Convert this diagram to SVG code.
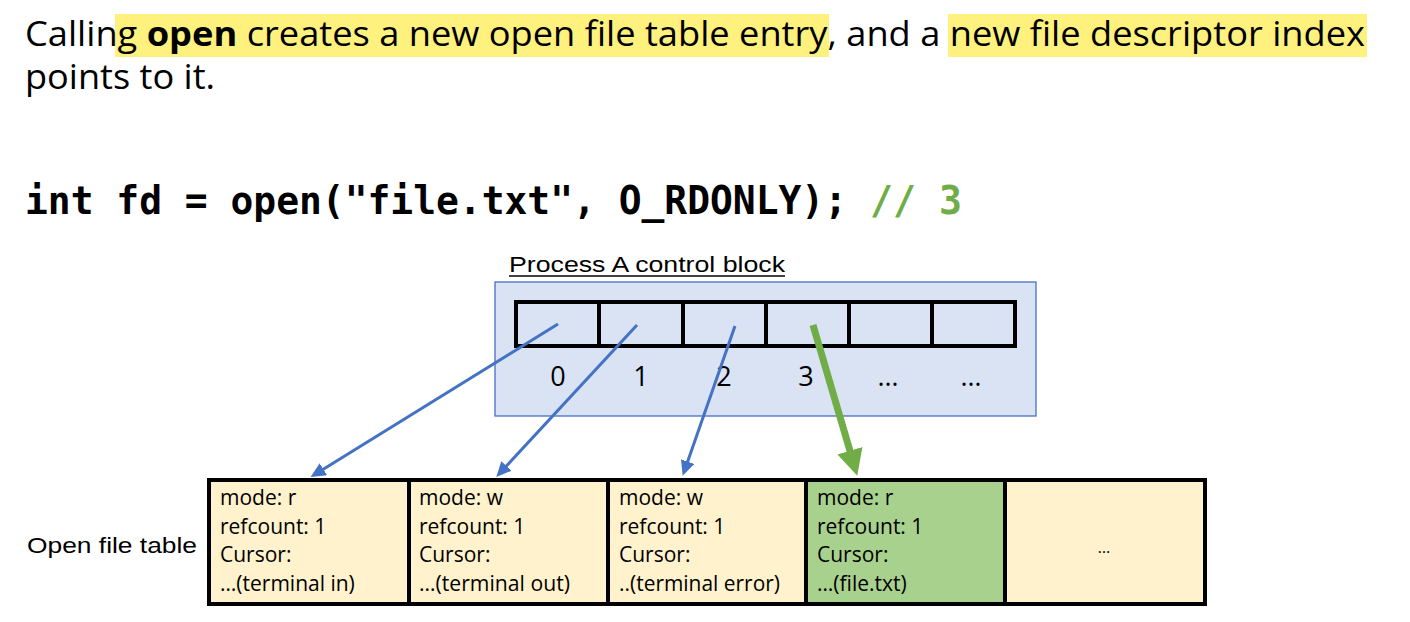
<svg xmlns="http://www.w3.org/2000/svg" width="1410" height="622" viewBox="0 0 1410 622">
<style>
.hdr{font-family:"Open Sans","Noto Sans",sans-serif;font-size:34px;fill:#000}
.code{font-family:"DejaVu Sans Mono","Liberation Mono",monospace;font-weight:bold;font-size:38.5px;fill:#000}
.ar{font-family:"Liberation Sans",Arial,sans-serif;font-size:22px;fill:#000}
.num{font-family:"Open Sans","Noto Sans",sans-serif;font-size:27px;fill:#000;text-anchor:middle}
.cell{font-family:"Open Sans","Noto Sans",sans-serif;font-size:21px;fill:#000}
.yel{fill:#FFF2CC;stroke:#000;stroke-width:4}
.grn{fill:#A9D18E;stroke:#000;stroke-width:4}
.slot{fill:none;stroke:#000;stroke-width:4}
.blue{stroke:#4472C4;stroke-width:3;fill:none}
.green{stroke:#70AD47;stroke-width:7;fill:none}
</style>
<defs>
<marker id="ab" markerUnits="userSpaceOnUse" markerWidth="16" markerHeight="16" refX="11" refY="7" orient="auto">
<path d="M0,0 L15,7 L0,14 z" fill="#4472C4"/>
</marker>
<marker id="ag" markerUnits="userSpaceOnUse" markerWidth="28" markerHeight="28" refX="18" refY="13" orient="auto">
<path d="M0,0 L26,13 L0,26 z" fill="#70AD47"/>
</marker>
</defs>
<rect width="1410" height="622" fill="#fff"/>
<g id="header">
<rect x="115" y="14" width="714" height="43" fill="#FEF17E"/>
<rect x="948" y="14" width="419" height="43" fill="#FEF17E"/>
<text class="hdr" x="25" y="46" textLength="1340" lengthAdjust="spacingAndGlyphs">Calling <tspan font-weight="bold">open</tspan> creates a new open file table entry, and a new file descriptor index</text>
<text class="hdr" x="25" y="89" textLength="190" lengthAdjust="spacingAndGlyphs">points to it.</text>
</g>
<g id="code">
<text class="code" x="25" y="214" textLength="822" lengthAdjust="spacingAndGlyphs">int fd = open("file.txt", O_RDONLY);</text>
<text class="code" x="870" y="214" fill="#70AD47" style="fill:#70AD47" textLength="92" lengthAdjust="spacingAndGlyphs">// 3</text>
</g>
<g id="process-block">
<rect x="495" y="282" width="541" height="134" fill="#DAE3F3" stroke="#4472C4" stroke-width="1.3"/>
<text class="ar" x="509" y="272" textLength="276" lengthAdjust="spacingAndGlyphs">Process A control block</text>
<line x1="509" y1="276" x2="785" y2="276" stroke="#000" stroke-width="1.5"/>
<g id="fd-array">
<rect class="slot" x="516" y="302" width="83" height="44"/>
<rect class="slot" x="599" y="302" width="84" height="44"/>
<rect class="slot" x="683" y="302" width="83" height="44"/>
<rect class="slot" x="766" y="302" width="83" height="44"/>
<rect class="slot" x="849" y="302" width="83" height="44"/>
<rect class="slot" x="932" y="302" width="83" height="44"/>
</g>
<text class="num" x="558" y="386">0</text>
<text class="num" x="641" y="386">1</text>
<text class="num" x="724" y="386">2</text>
<text class="num" x="806" y="386">3</text>
<text class="num" x="888" y="386">…</text>
<text class="num" x="971" y="386">…</text>
</g>
<g id="open-file-table">
<text class="ar" x="27" y="553" textLength="170" lengthAdjust="spacingAndGlyphs">Open file table</text>
<g id="entry0">
<rect class="yel" x="209" y="480" width="200" height="124"/>
<text class="cell" x="220" y="505">mode: r</text>
<text class="cell" x="220" y="534">refcount: 1</text>
<text class="cell" x="220" y="562">Cursor:</text>
<text class="cell" x="220" y="591">…(terminal in)</text>
</g>
<g id="entry1">
<rect class="yel" x="409" y="480" width="199" height="124"/>
<text class="cell" x="419" y="505">mode: w</text>
<text class="cell" x="419" y="534">refcount: 1</text>
<text class="cell" x="419" y="562">Cursor:</text>
<text class="cell" x="419" y="591" textLength="151" lengthAdjust="spacingAndGlyphs">…(terminal out)</text>
</g>
<g id="entry2">
<rect class="yel" x="608" y="480" width="198" height="124"/>
<text class="cell" x="619" y="505">mode: w</text>
<text class="cell" x="619" y="534">refcount: 1</text>
<text class="cell" x="619" y="562">Cursor:</text>
<text class="cell" x="619" y="591" textLength="161" lengthAdjust="spacingAndGlyphs">..(terminal error)</text>
</g>
<g id="entry3">
<rect class="grn" x="806" y="480" width="199" height="124"/>
<text class="cell" x="817" y="505">mode: r</text>
<text class="cell" x="817" y="534">refcount: 1</text>
<text class="cell" x="817" y="562">Cursor:</text>
<text class="cell" x="817" y="591">…(file.txt)</text>
</g>
<g id="entry4">
<rect class="yel" x="1005" y="480" width="200" height="124"/>
<text class="cell" x="1104" y="553" text-anchor="middle" font-size="16" style="font-size:16px">…</text>
</g>
</g>
<g id="connectors">
<line class="blue" x1="558" y1="324" x2="314" y2="475" marker-end="url(#ab)"/>
<line class="blue" x1="637" y1="325" x2="499" y2="474" marker-end="url(#ab)"/>
<line class="blue" x1="735" y1="326" x2="684" y2="472" marker-end="url(#ab)"/>
<line class="green" x1="813" y1="325" x2="855" y2="468" marker-end="url(#ag)"/>
</g>
</svg>
